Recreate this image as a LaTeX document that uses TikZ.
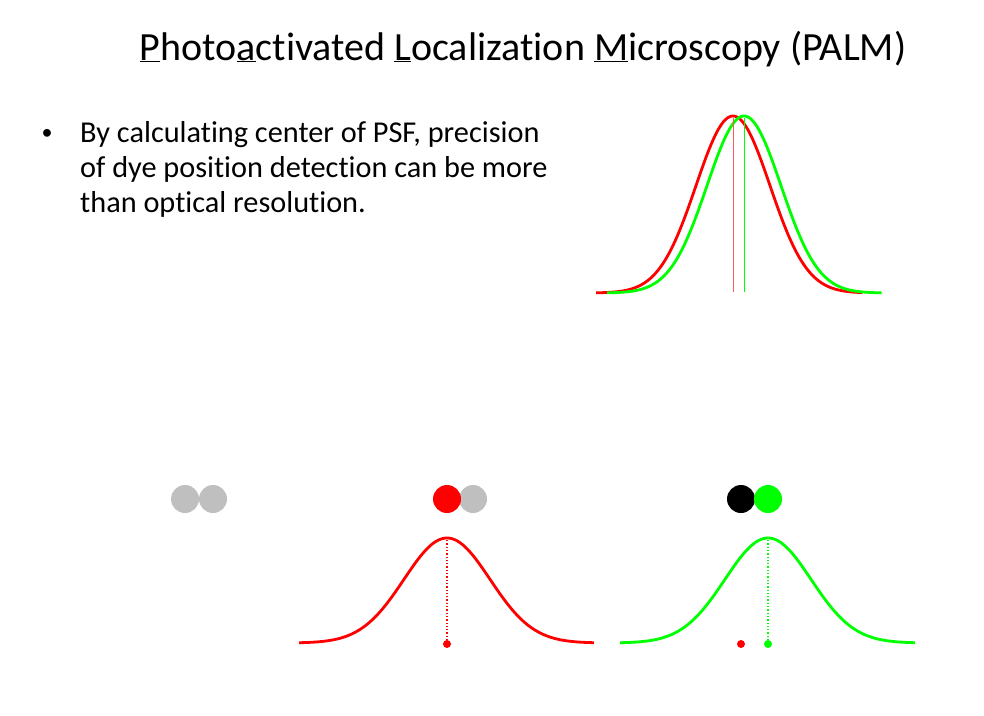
\documentclass[tikz,border=0pt]{standalone}
\usepackage{fontspec}
\setmainfont[Ligatures=NoCommon]{Carlito}
\definecolor{pgreen}{RGB}{0,255,0}
\definecolor{pred}{RGB}{255,0,0}
\definecolor{pgrey}{RGB}{191,191,191}
\begin{document}
\begin{tikzpicture}[x=1pt,y=-1pt,
  curve/.style={line width=2.8pt},
  dye/.style={circle,minimum size=28pt,inner sep=0pt},
  spot/.style={circle,minimum size=8pt,inner sep=0pt},
  centerline/.style={line width=1pt},
  dotline/.style={line width=1.3pt,dotted},
  body/.style={font=\fontsize{30.3}{35}\selectfont,anchor=base west,inner sep=0pt}]
\useasboundingbox (0,0) rectangle (984,715);
% title
\node[font=\fontsize{40}{46}\selectfont,anchor=base,inner sep=0pt] (title) at (523,60)
  {\underline{P}hoto\underline{a}ctivated \underline{L}ocalization \underline{M}icroscopy (PALM)};
% bullet text
\node[font=\fontsize{22}{26}\selectfont,anchor=base,inner sep=0pt] (bullet) at (47,139) {\textbullet};
\node[body] (l1) at (80,142) {By calculating center of PSF, precision};
\node[body] (l2) at (80,177) {of dye position detection can be more};
\node[body] (l3) at (80,212) {than optical resolution.};
% top right overlapping PSFs
\draw[curve,pred] plot[domain=-3.7:3.5,samples=120,smooth] ({733+37*\x},{293-177*exp(-(\x*\x)/2)});
\draw[curve,pgreen] plot[domain=-3.7:3.72,samples=120,smooth] ({744+37*\x},{293-177*exp(-(\x*\x)/2)});
\coordinate (rtop) at (733,118); \coordinate (rbot) at (733,292);
\coordinate (gtop) at (744,118); \coordinate (gbot) at (744,292);
\draw[centerline,pred!65] (rtop) -- (rbot);
\draw[centerline,pgreen] (gtop) -- (gbot);
% grey pair
\node[dye,fill=pgrey] (g1) at (185,499) {};
\node[dye,fill=pgrey] (g2) at (213,499) {};
% red active
\node[dye,fill=pgrey] (r2) at (473,499) {};
\node[dye,fill=pred] (r1) at (447,499) {};
\draw[curve,pred] plot[domain=-3.44:3.42,samples=120,smooth] ({447+43*\x},{643-105*exp(-(\x*\x)/2)});
\node[spot,fill=pred] (rdot) at (447,644) {};
\coordinate (rpeak) at (447,540);
\draw[dotline,pred] (rpeak) -- (rdot);
% green active
\node[dye,fill=black] (k1) at (741,499) {};
\node[dye,fill=pgreen] (k2) at (768,499) {};
\draw[curve,pgreen] plot[domain=-3.44:3.42,samples=120,smooth] ({768+43*\x},{643-105*exp(-(\x*\x)/2)});
\node[spot,fill=pgreen] (gdot) at (768,644) {};
\node[spot,fill=pred] (rdot2) at (741,644) {};
\coordinate (gpeak) at (768,540);
\draw[dotline,pgreen] (gpeak) -- (gdot);
\end{tikzpicture}
\end{document}
